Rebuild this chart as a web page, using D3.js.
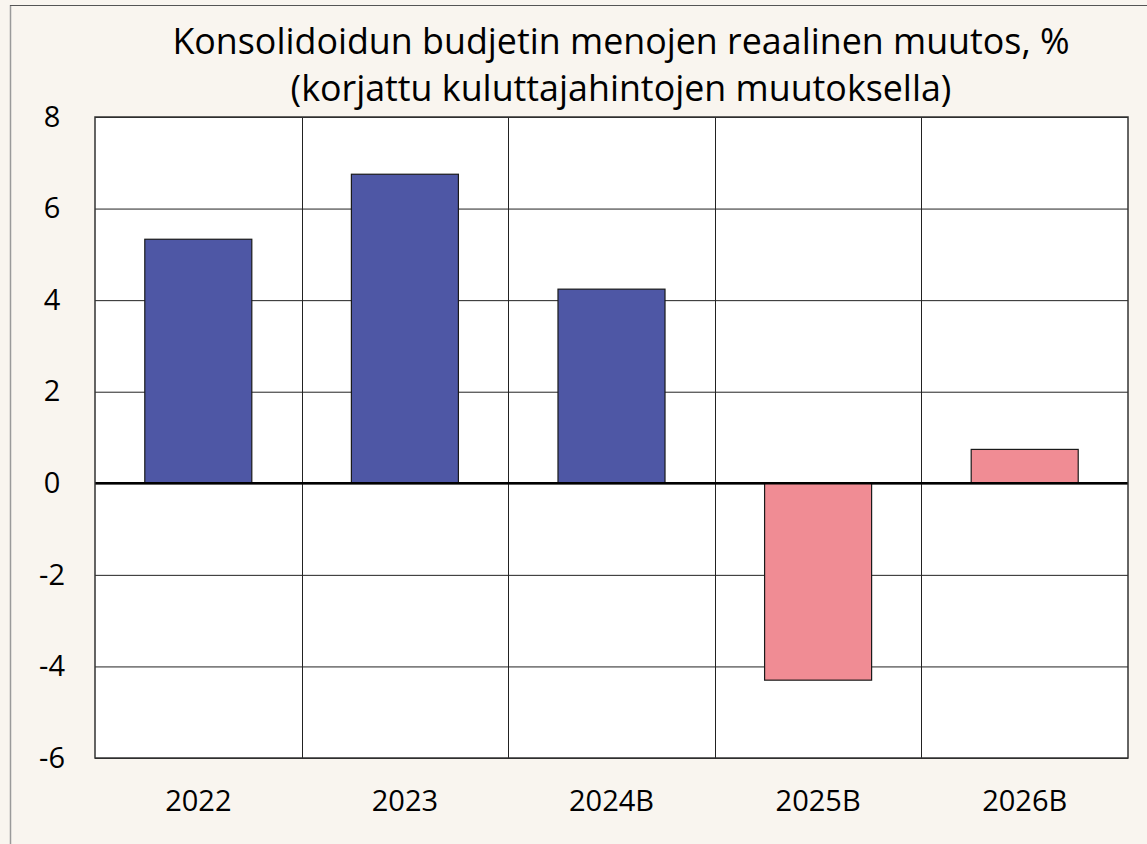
<!DOCTYPE html>
<html>
<head>
<meta charset="utf-8">
<script src="https://cdn.jsdelivr.net/npm/d3@7"></script>
<style>
  html, body { margin: 0; padding: 0; background: #f9f5ef; }
  text { font-family: "Open Sans", Lato, sans-serif; fill: #000; }
</style>
</head>
<body>
<div id="chart"></div>
<script>
// data
var categories = ["2022", "2023", "2024B", "2025B", "2026B"];
var values = [5.33, 6.75, 4.24, -4.30, 0.74];
var barColors = ["#4e57a5", "#4e57a5", "#4e57a5", "#f08c94", "#f08c94"];
var yTicks = [-6, -4, -2, 0, 2, 4, 6, 8];
var titleLines = ["Konsolidoidun budjetin menojen reaalinen muutos, %",
                  "(korjattu kuluttajahintojen muutoksella)"];

var W = 1147, H = 844;
var margin = { top: 117, right: 19, bottom: 86, left: 95 };
var width = W - margin.left - margin.right;
var height = H - margin.top - margin.bottom;

var svg = d3.select("#chart").append("svg")
  .attr("width", W).attr("height", H);

// outer frame (left + top edges visible)
svg.append("rect").attr("x", 0).attr("y", 0).attr("width", W).attr("height", H).attr("fill", "#f9f5ef");
svg.append("line").attr("x1", 10.5).attr("x2", 10.5).attr("y1", 5).attr("y2", H)
  .attr("stroke", "#9a9a9a").attr("stroke-width", 1.5);
svg.append("line").attr("x1", 10).attr("x2", W).attr("y1", 5.5).attr("y2", 5.5)
  .attr("stroke", "#555").attr("stroke-width", 1.2);

// title
svg.append("g").selectAll("text")
  .data(titleLines).enter().append("text")
  .attr("x", 621)
  .attr("y", function(d, i) { return 54 + i * 47; })
  .attr("text-anchor", "middle")
  .style("font-size", "35.8px")
  .text(function(d) { return d; });

var g = svg.append("g").attr("transform", "translate(" + margin.left + "," + margin.top + ")");

var x = d3.scaleBand().domain(categories).range([0, width]).paddingInner(0).paddingOuter(0);
var y = d3.scaleLinear().domain([-6, 8]).range([height, 0]);

g.append("rect").attr("width", width).attr("height", height).attr("fill", "#fff");

// horizontal gridlines
var yAxis = d3.axisLeft(y).tickValues(yTicks).tickSize(-width).tickPadding(30)
  .tickFormat(function(d) { return String(d); });
var yAxisG = g.append("g").call(yAxis);
yAxisG.select(".domain").remove();
yAxisG.selectAll(".tick line").attr("stroke", "#222").attr("stroke-width", 1);
yAxisG.selectAll(".tick text").style("font-size", "29px").attr("text-anchor", "middle").attr("x", -43);

// vertical gridlines between categories
g.append("g").selectAll("line")
  .data(categories.slice(1)).enter().append("line")
  .attr("x1", function(d) { return Math.round(x(d)) + 0.5; })
  .attr("x2", function(d) { return Math.round(x(d)) + 0.5; })
  .attr("y1", 0).attr("y2", height)
  .attr("stroke", "#222").attr("stroke-width", 1);

// bars
var barW = x.bandwidth() * 0.518;
var barOff = (x.bandwidth() - barW) / 2;
g.append("g").selectAll("rect")
  .data(values).enter().append("rect")
  .attr("x", function(d, i) { return x(categories[i]) + barOff; })
  .attr("y", function(d) { return y(Math.max(0, d)); })
  .attr("width", barW)
  .attr("height", function(d) { return Math.abs(y(d) - y(0)); })
  .attr("fill", function(d, i) { return barColors[i]; })
  .attr("stroke", "#1a1a1a").attr("stroke-width", 1.2);

// zero line
g.append("line").attr("x1", 0).attr("x2", width)
  .attr("y1", y(0)).attr("y2", y(0))
  .attr("stroke", "#000").attr("stroke-width", 2.5);

// plot border
g.append("rect").attr("width", width).attr("height", height)
  .attr("fill", "none").attr("stroke", "#333").attr("stroke-width", 1.5);

// x labels
var xAxis = d3.axisBottom(x).tickSize(0).tickPadding(32);
var xAxisG = g.append("g").attr("transform", "translate(0," + height + ")").call(xAxis);
xAxisG.select(".domain").remove();
xAxisG.selectAll(".tick text").style("font-size", "29px");
</script>
</body>
</html>
